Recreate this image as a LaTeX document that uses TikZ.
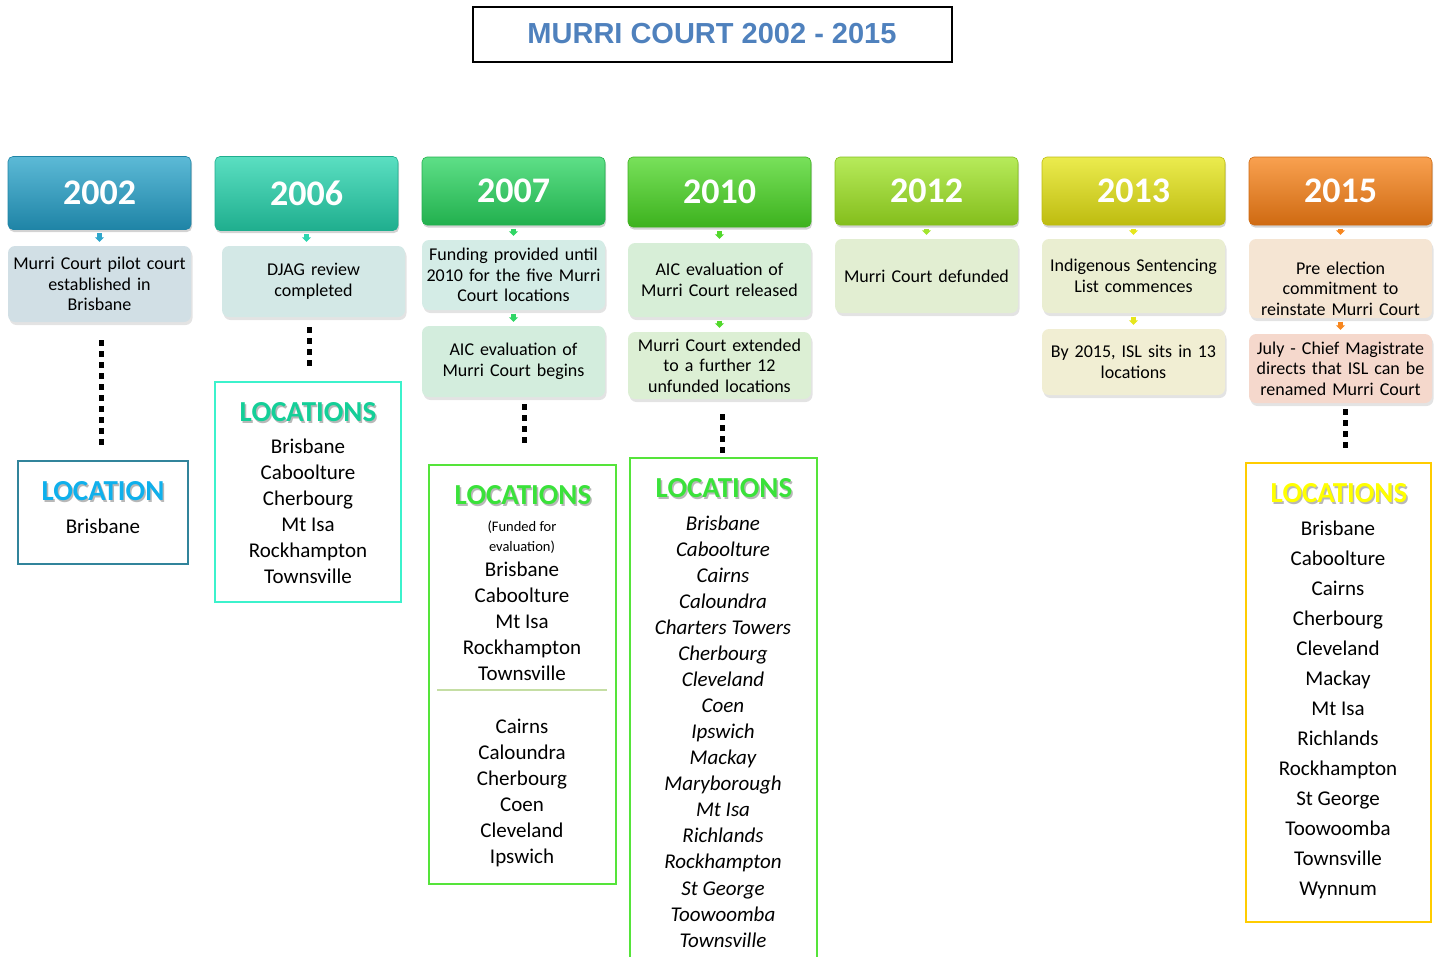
\documentclass[tikz,border=0pt]{standalone}
\usepackage{fontspec}
\setmainfont{Carlito}
\newfontfamily\titlefont{Liberation Sans}
\usetikzlibrary{shadows,arrows.meta,calc}

% year colours: base and darker edge
\definecolor{cA}{HTML}{2EA6CB}\definecolor{cAd}{HTML}{1F84A6}
\definecolor{cB}{HTML}{2CD6B0}\definecolor{cBd}{HTML}{1FAE8E}
\definecolor{cC}{HTML}{30D665}\definecolor{cCd}{HTML}{22B04E}
\definecolor{cD}{HTML}{52D82C}\definecolor{cDd}{HTML}{3DB21E}
\definecolor{cE}{HTML}{A2E52C}\definecolor{cEd}{HTML}{84BE1C}
\definecolor{cF}{HTML}{E6E61C}\definecolor{cFd}{HTML}{BEBC10}
\definecolor{cG}{HTML}{F7861E}\definecolor{cGd}{HTML}{CF6A12}
\definecolor{titleblue}{HTML}{4F81BD}
% event fills
\definecolor{fA}{HTML}{D1DFE5}
\definecolor{fB}{HTML}{D3E8E6}
\definecolor{fC}{HTML}{D4ECE6}
\definecolor{fCb}{HTML}{D3EDDD}
\definecolor{fD}{HTML}{D7EED7}
\definecolor{fDb}{HTML}{DCEFD4}
\definecolor{fE}{HTML}{E2EED2}
\definecolor{fF}{HTML}{EAEED1}
\definecolor{fFb}{HTML}{F1EED3}
\definecolor{fG}{HTML}{F5E5D3}
\definecolor{fGb}{HTML}{F5D8CC}
% location boxes
\definecolor{locA}{HTML}{31849B}
\definecolor{locB}{HTML}{3CF2CC}
\definecolor{locC}{HTML}{55E43A}
\definecolor{locG}{HTML}{FFCC00}
\definecolor{hdA}{HTML}{0FB0EC}
\definecolor{hdB}{HTML}{14CF98}
\definecolor{hdC}{HTML}{3AE23A}
\definecolor{hdG}{HTML}{FFFF00}
\definecolor{sepline}{HTML}{C5DEA4}

\newcommand\firstline{\rule{0pt}{16pt}}

\begin{document}
\begin{tikzpicture}[x=1pt,y=-1pt,
  yearbox/.style={rounded corners=5pt, minimum width=183pt, inner sep=0pt,
    text=white, font=\fontsize{36}{40}\selectfont\bfseries, line width=0.6pt,
    drop shadow={shadow xshift=1pt,shadow yshift=-2.5pt,opacity=0.35}},
  yr/.style={yearbox, top color=#1!78!white, middle color=#1, bottom color=#1d, draw=#1d},
  event/.style={rounded corners=7pt, minimum width=183pt, inner sep=0pt,
    text width=180pt, align=center, font=\fontsize{18}{20.5}\selectfont,
    text=black, drop shadow={shadow xshift=1.5pt,shadow yshift=-3pt,opacity=0.22}},
  evtext/.style={inner sep=0pt, text width=180pt, align=center,
    font=\fontsize{18}{20.5}\selectfont, text=black},
  tip/.style={line width=4.5pt, draw=#1, -{Triangle[width=9pt,length=4.5pt]},
    shorten <=3.5pt, shorten >=4pt},
  dots/.style={line width=5pt, dash pattern=on 6pt off 5pt},
  locbox/.style={draw=#1, line width=2.5pt, inner sep=0pt, anchor=north west},
  lochead/.style={inner sep=0pt, font=\fontsize{29}{30}\selectfont\bfseries},
  loclist/.style={inner sep=0pt, anchor=north, align=center,
    font=\fontsize{21}{26.1}\selectfont, text=black},
]
\useasboundingbox (0,0) rectangle (1438,956);
\clip (0,0) rectangle (1438,956);

% title
\node[draw, line width=2pt, minimum width=479pt, minimum height=55pt,
  font=\titlefont\fontsize{29}{32}\selectfont\bfseries, text=titleblue]
  (title) at (712,34) {MURRI COURT 2002 - 2015};

% year headers
\node[yr=cA, minimum height=73pt] (y02) at (99.5,193) {2002};
\node[yr=cB, minimum height=74pt] (y06) at (306.5,193.5) {2006};
\node[yr=cC, minimum height=68pt] (y07) at (513.5,191) {2007};
\node[yr=cD, minimum height=70pt] (y10) at (719.5,192) {2010};
\node[yr=cE, minimum height=68pt] (y12) at (926.5,191) {2012};
\node[yr=cF, minimum height=68pt] (y13) at (1133.5,191) {2013};
\node[yr=cG, minimum height=68pt] (y15) at (1340.5,191) {2015};

% events
\node[event, fill=fA, minimum height=76pt] (e02) at (99.5,284)
  {Murri Court pilot court\\established in\\Brisbane};
\node[event, fill=fB, minimum height=71pt] (e06) at (313.5,281.5)
  {DJAG review\\completed};
\node[event, fill=fC, minimum height=70pt] (e07a) at (513.5,275)
  {Funding provided until\\2010 for the five Murri\\Court locations};
\node[event, fill=fCb, minimum height=71pt] (e07b) at (513.5,361.5)
  {AIC evaluation of\\Murri Court begins};
\node[event, fill=fD, minimum height=74pt] (e10a) at (719.5,280)
  {AIC evaluation of\\Murri Court released};
\node[event, fill=fDb, minimum height=67pt] (e10b) at (719.5,365.5)
  {Murri Court extended\\to a further 12\\unfunded locations};
\node[event, fill=fE, minimum height=74pt] (e12) at (926.5,276)
  {Murri Court defunded};
\node[event, fill=fF, minimum height=74pt] (e13a) at (1133.5,276)
  {Indigenous Sentencing\\List commences};
\node[event, fill=fFb, minimum height=66pt] (e13b) at (1133.5,362)
  {By 2015, ISL sits in 13\\locations};
\node[event, fill=fG, minimum height=79pt] (e15a) at (1340.5,278.5) {};
\node[evtext] (e15at) at (1340.5,288.5)
  {Pre election\\commitment to\\reinstate Murri Court};
\node[event, fill=fGb, minimum height=69pt] (e15b) at (1340.5,368.5)
  {July - Chief Magistrate\\directs that ISL can be\\renamed Murri Court};

% small arrows
\draw[tip=cA] (y02) -- (e02);
\draw[tip=cB] (y06.south) -- (y06.south |- e06.north);
\draw[tip=cC] (y07) -- (e07a);
\draw[tip=cC] (e07a) -- (e07b);
\draw[tip=cD] (y10) -- (e10a);
\draw[tip=cD] (e10a) -- (e10b);
\draw[tip=cE] (y12) -- (e12);
\draw[tip=cF] (y13) -- (e13a);
\draw[tip=cF] (e13a) -- (e13b);
\draw[tip=cG] (y15) -- (e15a);
\draw[tip=cG] (e15a) -- (e15b);

% location boxes
\node[locbox=locA, minimum width=170pt, minimum height=103pt] (l02) at (16.5,459.5) {};
\node[locbox=locB, minimum width=186pt, minimum height=220pt] (l06) at (213.5,380.5) {};
\node[locbox=locC, minimum width=187pt, minimum height=419pt] (l07) at (427.5,463.5) {};
\node[locbox=locC, minimum width=187pt, minimum height=520pt] (l10) at (628.5,456.5) {};
\node[locbox=locG, minimum width=185pt, minimum height=459pt] (l15) at (1244.5,461.5) {};

% dotted links
\draw[dots] ($(e02.south)+(1.5,18)$) -- ($(e02.south |- l02.north)+(1.5,-10)$);
\draw[dots] ($(e06.south)+(-4.5,10)$) -- ($(e06.south |- l06.north)+(-4.5,-12)$);
\draw[dots] ($(e07b.south)+(10.5,7)$) -- ($(e07b.south |- l07.north)+(10.5,-18)$);
\draw[dots] ($(e10b.south)+(2.5,15)$) -- ($(e10b.south |- l10.north)+(2.5,-1)$);
\draw[dots] ($(e15b.south)+(4.5,6)$) -- ($(e15b.south |- l15.north)+(4.5,-11)$);

% headings with soft shadow
\foreach \nm/\x/\y/\c/\t in {hA/103/491/hdA/LOCATION, hB/308/412/hdB/LOCATIONS,
    hC/523/495/hdC/LOCATIONS, hD/724/488/hdC/LOCATIONS, hG/1339/493/hdG/LOCATIONS}{
  \node[lochead, text=black, opacity=0.28] (\nm s) at (\x+1.5,\y+2) {\t};
  \node[lochead, text=\c] (\nm) at (\x,\y) {\t};
}

% location lists
\node[loclist] (t02) at (103,517) {\firstline Brisbane};
\node[loclist] (t06) at (308,437)
  {\firstline Brisbane\\Caboolture\\Cherbourg\\Mt Isa\\Rockhampton\\Townsville};
\node[inner sep=0pt, align=center, font=\fontsize{14.5}{20}\selectfont, text=black]
  (t07n) at (522,537) {(Funded for\\evaluation)};
\node[loclist] (t07a) at (522,560)
  {\firstline Brisbane\\Caboolture\\Mt Isa\\Rockhampton\\Townsville};
\draw[line width=1.5pt, draw=sepline] (437,690) -- (607,690);
\node[loclist] (t07b) at (522,717)
  {\firstline Cairns\\Caloundra\\Cherbourg\\Coen\\Cleveland\\Ipswich};
\node[loclist, font=\fontsize{21}{26.06}\selectfont\itshape] (t10) at (723,514)
  {\firstline Brisbane\\Caboolture\\Cairns\\Caloundra\\Charters Towers\\Cherbourg\\Cleveland\\Coen\\Ipswich\\Mackay\\Maryborough\\Mt Isa\\Richlands\\Rockhampton\\St George\\Toowoomba\\Townsville};
\node[loclist, font=\fontsize{21}{30}\selectfont] (t15) at (1338,519)
  {\firstline Brisbane\\Caboolture\\Cairns\\Cherbourg\\Cleveland\\Mackay\\Mt Isa\\Richlands\\Rockhampton\\St George\\Toowoomba\\Townsville\\Wynnum};
\end{tikzpicture}
\end{document}
